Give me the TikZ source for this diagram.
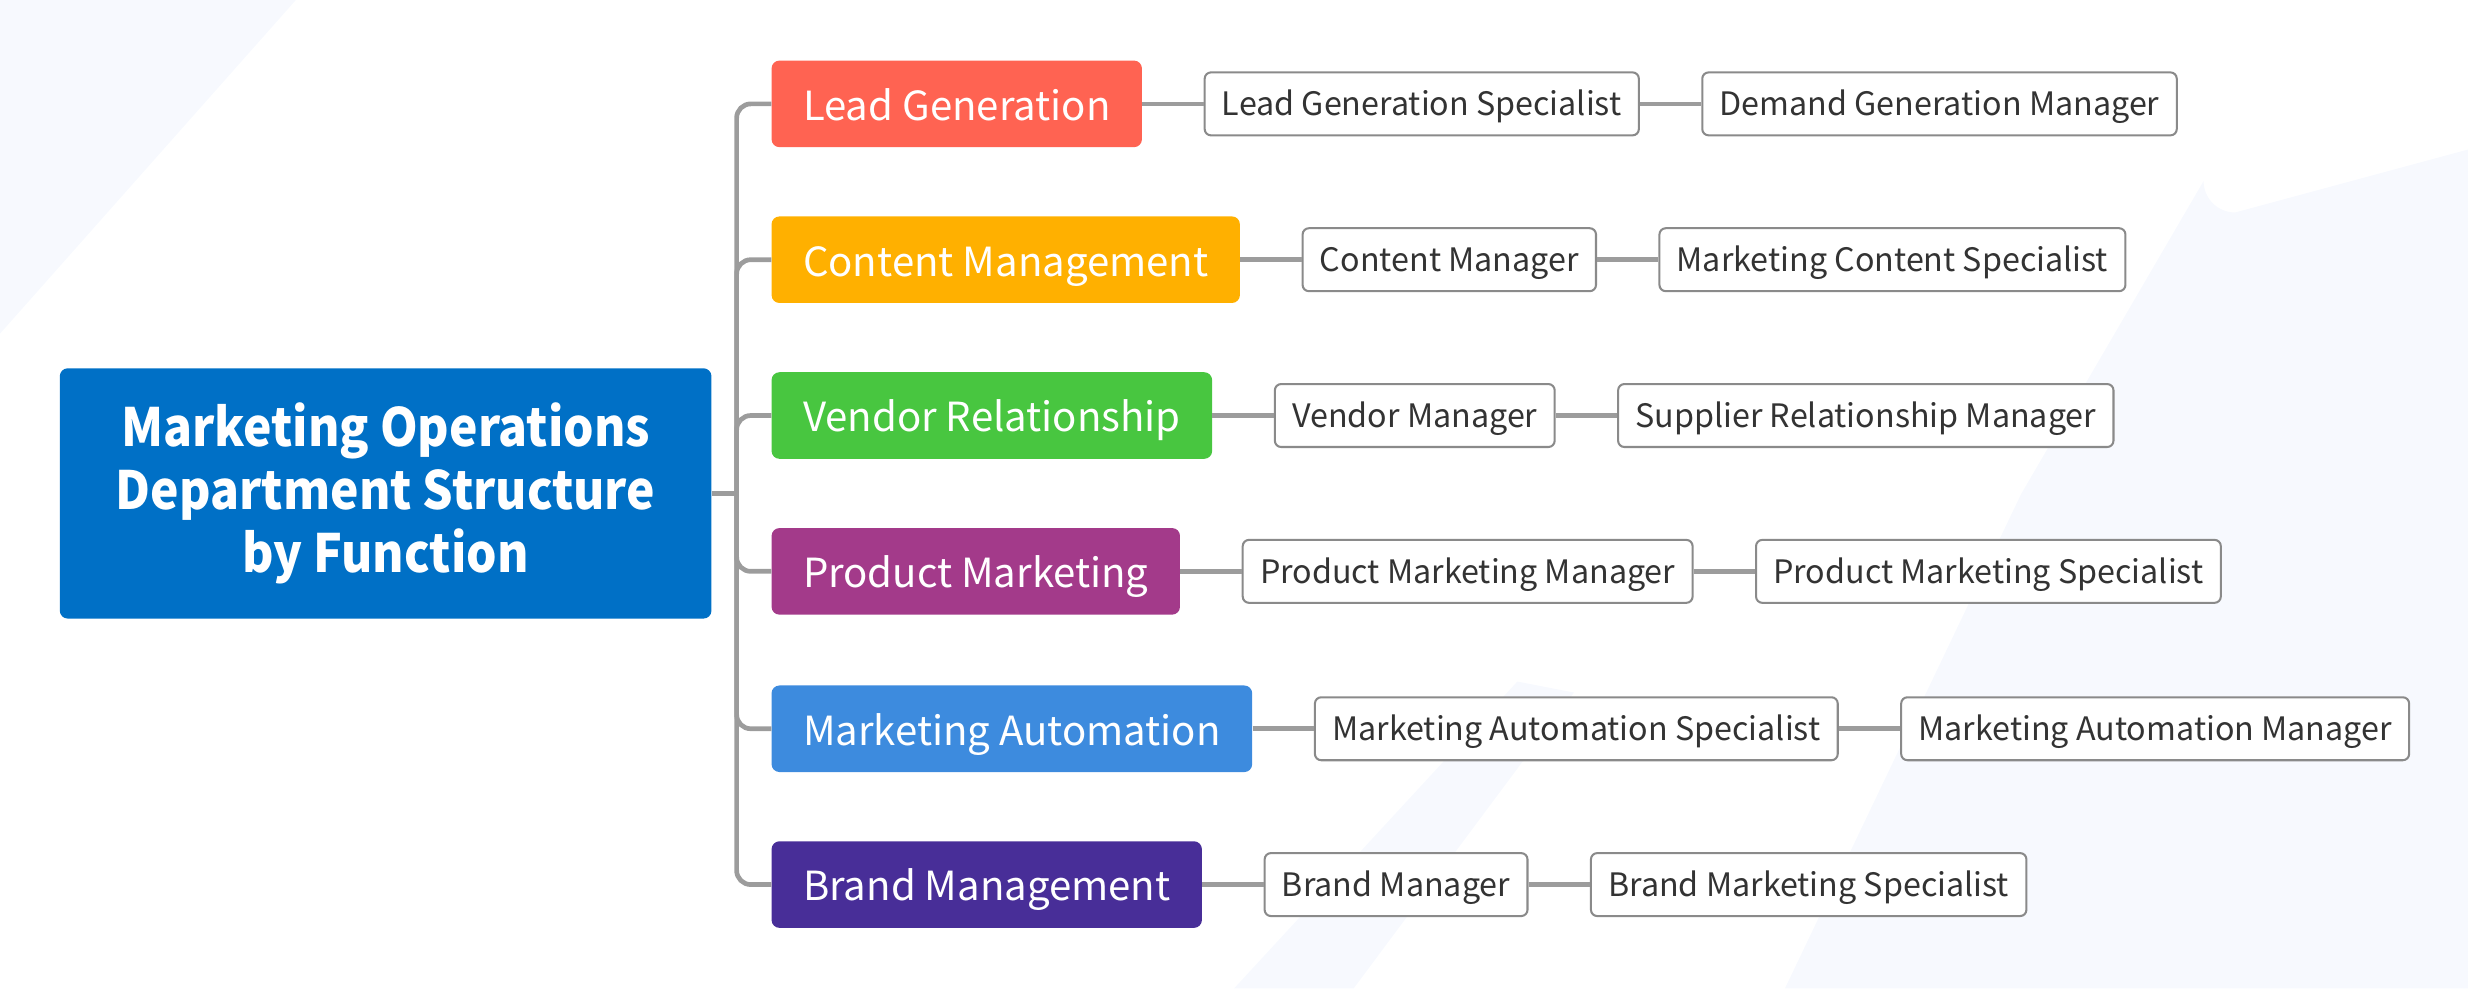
\documentclass[tikz,border=0pt]{standalone}
\usepackage{fontspec}
\setmainfont{Noto Sans CJK SC}
\newfontfamily\rootfont{Noto Sans CJK SC}[FakeStretch=0.91]
\usetikzlibrary{positioning}

\definecolor{rootblue}{HTML}{0070C6}
\definecolor{leadred}{HTML}{FF6352}
\definecolor{contentorange}{HTML}{FFB000}
\definecolor{vendorgreen}{HTML}{48C640}
\definecolor{productmagenta}{HTML}{A33A8A}
\definecolor{autoblue}{HTML}{3D8BDE}
\definecolor{brandpurple}{HTML}{482E98}
\definecolor{linkgray}{HTML}{9C9C9C}
\definecolor{leafborder}{HTML}{8A8A8A}
\definecolor{leaftext}{HTML}{333333}
\definecolor{bgtint}{HTML}{F7F9FE}

\tikzset{
  rootbox/.style={fill=rootblue, text=white, rounded corners=5pt,
    minimum width=414pt, minimum height=159pt, align=center,
    font=\rootfont\bfseries\fontsize{33.5}{40}\selectfont},
  branchbox/.style={rounded corners=5pt, text=white, anchor=west,
    minimum height=55pt, inner xsep=20pt, inner ysep=0pt,
    text height=21.8pt, text depth=1pt,
    font=\fontsize{25.5}{30}\selectfont},
  leafbox/.style={draw=leafborder, line width=1.3pt, fill=white,
    text=leaftext, rounded corners=4pt, minimum height=40pt,
    inner xsep=11pt, inner ysep=0pt,
    text height=16pt, text depth=0.8pt,
    font=\fontsize{20.5}{24}\selectfont},
  link/.style={draw=linkgray, line width=3pt},
}

\begin{document}
\begin{tikzpicture}[x=1pt,y=-1pt]

\useasboundingbox (0,0) rectangle (1568,628);

% faint background bands
\fill[bgtint] (0,0) -- (188,0) -- (0,212) -- cycle;
\fill[bgtint] (1284,314) -- (1400,115) arc[start angle=180, end angle=90, radius=20] -- (1568,95) -- (1568,628) -- (1134,628) -- cycle;
\fill[bgtint] (964,433) -- (784,628) -- (860,628) -- (1000,440) -- cycle;

\node[rootbox] (root) at (245,313.5) {Marketing Operations\\Department Structure\\by Function};
\coordinate (trunk) at (468,313.5);

\foreach \i/\y/\col/\name in {1/66/leadred/Lead Generation,
			2/165/contentorange/Content Management,
			3/264/vendorgreen/Vendor Relationship,
			4/363/productmagenta/Product Marketing,
			5/463/autoblue/Marketing Automation,
			6/562/brandpurple/Brand Management}
{
	\node[branchbox, fill=\col] (b\i) at (490,\y) {\name};
};

\foreach \i/\first/\second in {1/Lead Generation Specialist/Demand Generation Manager,
			2/Content Manager/Marketing Content Specialist,
			3/Vendor Manager/Supplier Relationship Manager,
			4/Product Marketing Manager/Product Marketing Specialist,
			5/Marketing Automation Specialist/Marketing Automation Manager,
			6/Brand Manager/Brand Marketing Specialist}
{
	\node[leafbox, right=39pt of b\i] (l\i a) {\first};
	\node[leafbox, right=39pt of l\i a] (l\i b) {\second};
};

\draw[link] (root.east) -- (trunk);
\foreach \i in {1,...,6}
{
	\draw[link, rounded corners=9pt] (trunk) |- (b\i.west);
	\draw[link] (b\i.east) -- (l\i a.west);
	\draw[link] (l\i a.east) -- (l\i b.west);
};
\end{tikzpicture}
\end{document}
